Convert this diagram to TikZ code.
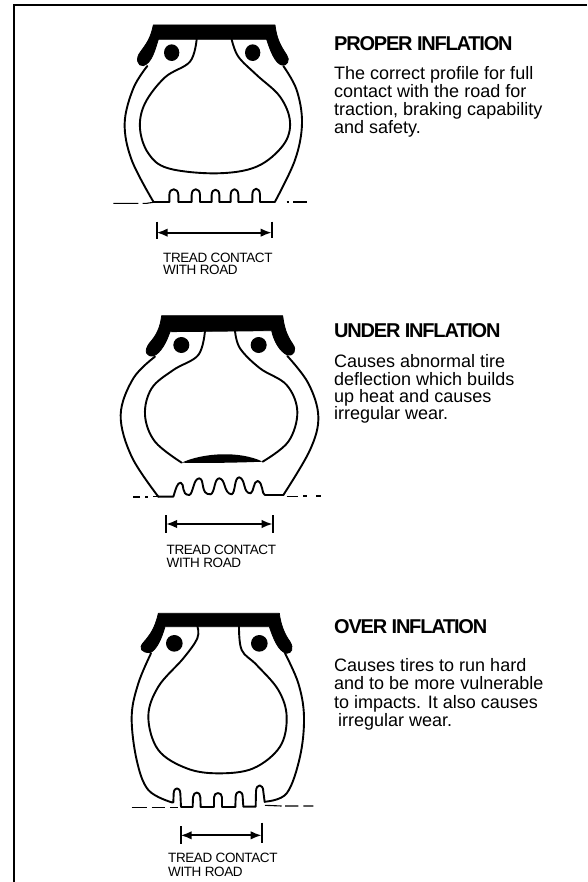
\documentclass[tikz,border=0pt]{standalone}
\usepackage{fontspec}
\setmainfont{Liberation Sans}
\usetikzlibrary{arrows.meta}
\tikzset{
  tireline/.style={line width=1.9pt,line join=round,line cap=round,fill=none},
  rimfill/.style={fill=black,draw=black,line width=.8pt,line join=round},
  groundline/.style={line width=1.1pt},
  dimbar/.style={line width=1.8pt},
  dimarrow/.style={line width=1.9pt,{Latex[length=11pt,width=8.5pt]}-{Latex[length=11pt,width=8.5pt]}},
  heading/.style={anchor=base west,inner sep=0pt,font=\fontsize{20}{20}\bfseries\addfontfeature{LetterSpace=-6}},
  bodytext/.style={anchor=base west,inner sep=0pt,font=\fontsize{18}{18}\selectfont},
  small/.style={anchor=base west,inner sep=0pt,font=\fontsize{13.5}{13.5}\addfontfeature{LetterSpace=-3}}
}
\begin{document}
\begin{tikzpicture}[x=1pt,y=-1pt]
\useasboundingbox (0,0) rectangle (587,882);
\fill[white] (0,0) rectangle (587,882);
\draw[line width=2pt] (587,5) -- (14,5) -- (14,882);

% ---- tire 1
\begin{scope}[shift={(90,0)},x=1/3*1pt,y=-1/3*1pt]
\fill[rimfill] (190,75) -- (555,75) .. controls (560,115) and (570,135) .. (590,165)
  .. controls (602,180) and (590,200) .. (575,195) .. controls (555,190) and (540,150) .. (530,118)
  -- (205,118) .. controls (195,150) and (185,190) .. (160,197) .. controls (143,200) and (135,175) .. (152,155)
  .. controls (170,130) and (182,115) .. (190,75) -- cycle;
\fill (245,158) ellipse (23 and 25);
\fill (488,158) ellipse (23 and 25);
\draw[tireline] plot[smooth,tension=.6] coordinates {(172,198) (130,265) (104,370) (125,480) (190,605)};
\draw[tireline] plot[smooth,tension=.6] coordinates {(580,198) (620,270) (636,370) (615,480) (555,605)};
\draw[tireline] plot[smooth,tension=.6] coordinates {(320,118) (300,185) (225,232) (165,310) (150,385) (175,460) (235,505) (380,520) (500,500) (580,435) (600,365) (570,290) (500,225) (445,170) (425,118)};
\draw[tireline] (190,606) -- (238,606) -- (238,585) .. controls (238,562) and (264,562) .. (265,585) -- (265,606)
  -- (305,606) -- (305,585) .. controls (305,562) and (330,562) .. (330,585) -- (330,606)
  -- (365,606) -- (365,585) .. controls (365,564) and (388,564) .. (388,585) -- (388,606)
  -- (422,606) -- (422,585) .. controls (422,562) and (445,562) .. (445,585) -- (445,606)
  -- (487,606) -- (487,585) .. controls (487,560) and (510,560) .. (510,585) -- (510,606) -- (555,606);
\draw[groundline] (70,610) -- (145,610) (158,610) -- (170,610) (170,610) -- (190,607);
\draw[groundline] (590,606) -- (598,606) (610,606) -- (650,606);
\coordinate (a1) at (200,698); \coordinate (b1) at (545,698);
\draw[dimbar] (200,665) -- (200,718) (545,665) -- (545,715);
\draw[dimarrow] (a1) -- (b1);
\end{scope}
\node[small] (t1a) at (163,262) {TREAD CONTACT};
\node[small] (t1b) at (163,275) {WITH ROAD};
\node[heading] (h1) at (334,51) {PROPER INFLATION};
\node[bodytext] (p1a) at (334,79.3) {The correct profile for full};
\node[bodytext] (p1b) at (334,97.6) {contact with the road for};
\node[bodytext] (p1c) at (334,116) {traction, braking capability};
\node[bodytext] (p1d) at (334,134) {and safety.};

% ---- tire 2
\begin{scope}[shift={(90,300)},x=1/3*1pt,y=-1/3*1pt]
\fill[rimfill] (215,47) -- (578,47) .. controls (583,85) and (590,105) .. (608,132)
  .. controls (622,150) and (610,170) .. (592,165) .. controls (570,155) and (552,125) .. (545,92)
  -- (240,95) .. controls (230,125) and (212,160) .. (190,168) .. controls (170,170) and (160,155) .. (178,130)
  .. controls (200,105) and (210,85) .. (215,47) -- cycle;
\fill (274,135) ellipse (24 and 24);
\fill (506,135) ellipse (24 and 24);
\draw[tireline] plot[smooth,tension=.6] coordinates {(195,170) (130,235) (92,345) (125,470) (205,590)};
\draw[tireline] plot[smooth,tension=.6] coordinates {(592,168) (655,250) (685,350) (660,450) (580,585)};
\draw[tireline] plot[smooth,tension=.6] coordinates {(345,92) (325,165) (250,210) (185,265) (165,345) (195,425) (275,488)};
\draw[tireline] plot[smooth,tension=.6] coordinates {(435,92) (450,145) (510,205) (590,255) (622,335) (595,425) (518,485)};
\fill (275,488) .. controls (340,458) and (450,452) .. (518,485) .. controls (450,488) and (340,490) .. (275,488) -- cycle;
\draw[tireline] (205,590) -- (250,590) .. controls (258,565) and (262,548) .. (272,548) .. controls (285,550) and (272,585) .. (298,585)
  .. controls (310,580) and (310,535) .. (328,535) .. controls (345,538) and (330,585) .. (362,583)
  .. controls (375,578) and (372,535) .. (388,535) .. controls (408,538) and (400,580) .. (425,583)
  .. controls (437,578) and (432,532) .. (448,532) .. controls (468,538) and (458,580) .. (482,580)
  .. controls (492,575) and (490,543) .. (503,543) .. controls (520,548) and (515,585) .. (525,585) -- (580,585);
\draw[groundline] (130,591) -- (150,591) (165,591) -- (175,591) (190,590) -- (205,590);
\draw[groundline] (590,589) -- (625,589) (640,588) -- (650,588) (678,588) -- (692,588);
\coordinate (a2) at (228,672); \coordinate (b2) at (548,672);
\draw[dimbar] (228,645) -- (228,700) (548,645) -- (548,700);
\draw[dimarrow] (a2) -- (b2);
\end{scope}
\node[small] (t2a) at (166.5,554) {TREAD CONTACT};
\node[small] (t2b) at (166.5,567) {WITH ROAD};
\node[heading] (h2) at (334,337) {UNDER INFLATION};
\node[bodytext] (p2a) at (334,367) {Causes abnormal tire};
\node[bodytext] (p2b) at (334,385) {deflection which builds};
\node[bodytext] (p2c) at (334,402) {up heat and causes};
\node[bodytext] (p2d) at (334,419) {irregular wear.};

% ---- tire 3
\begin{scope}[shift={(90,600)},x=1/3*1pt,y=-1/3*1pt]
\fill[rimfill] (205,40) -- (568,40) .. controls (572,75) and (585,105) .. (600,125)
  .. controls (612,145) and (605,160) .. (590,160) .. controls (565,155) and (550,115) .. (538,80)
  -- (225,80) .. controls (215,115) and (200,150) .. (180,158) .. controls (155,158) and (145,145) .. (160,128)
  .. controls (180,105) and (195,85) .. (205,40) -- cycle;
\fill (253,130) ellipse (25 and 25);
\fill (508,130) ellipse (25 and 25);
\draw[tireline] plot[smooth,tension=.6] coordinates {(183,160) (145,250) (125,350) (140,480) (175,570) (245,607)};
\draw[tireline] plot[smooth,tension=.6] coordinates {(585,160) (625,250) (642,350) (630,470) (590,580) (525,605)};
\draw[tireline] plot[smooth,tension=.6] coordinates {(322,78) (322,115) (280,175) (205,260) (175,350) (205,450) (290,505) (385,520) (490,505) (570,440) (590,350) (565,270) (500,195) (455,150) (447,78)};
\draw[tireline] (245,607) -- (250,607) -- (251,580) .. controls (252,560) and (270,560) .. (271,580) -- (273,621)
  -- (308,621) -- (309,592) .. controls (310,573) and (331,573) .. (331,592) -- (332,621)
  -- (372,621) -- (372,592) .. controls (372,575) and (396,575) .. (396,592) -- (396,621)
  -- (436,621) -- (437,590) .. controls (438,570) and (458,570) .. (458,590) -- (460,620)
  -- (497,620) -- (498,575) .. controls (498,550) and (520,550) .. (520,575) -- (524,606);
\draw[groundline] (125,622) -- (170,622) (185,622) -- (225,622) (240,622) -- (265,622);
\draw[groundline] (525,616) -- (575,618) (585,618) -- (625,618) (640,618) -- (670,618);
\coordinate (a3) at (272,706); \coordinate (b3) at (515,706);
\draw[dimbar] (272,678) -- (272,733) (515,668) -- (515,728);
\draw[dimarrow] (a3) -- (b3);
\end{scope}
\node[small] (t3a) at (168,862) {TREAD CONTACT};
\node[small] (t3b) at (168,876) {WITH ROAD};
\node[heading] (h3) at (334,633) {OVER INFLATION};
\node[bodytext] (p3a) at (334,671) {Causes tires to run hard};
\node[bodytext] (p3b) at (334,689) {and to be more vulnerable};
\node[bodytext] (p3c) at (334,708) {to impacts. It also causes};
\node[bodytext] (p3d) at (338,726) {irregular wear.};
\end{tikzpicture}
\end{document}
